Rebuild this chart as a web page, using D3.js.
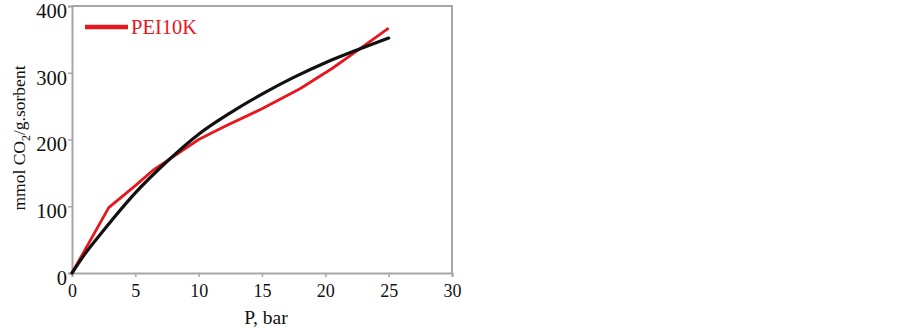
<!DOCTYPE html>
<html>
<head>
<meta charset="utf-8">
<script src="https://cdn.jsdelivr.net/npm/d3@7"></script>
<style>
    body { margin: 0; background: #fff; }
    svg text { font-family: "Liberation Serif", "DejaVu Serif", serif; }
</style>
</head>
<body>
<div id="chart"></div>
<script>
// measured series (P in bar, uptake)
var redP   = [0, 2.9, 5, 6.4, 7.5, 10, 12, 15, 18, 20.5, 22, 25];
var redVal = [0, 98, 131, 154, 168, 200, 219, 246, 276, 306, 326, 367];

var fitP   = [0, 1, 2.5, 5, 7.5, 10, 12.5, 15, 17.5, 20, 22.5, 25];
var fitVal = [0, 28, 64, 120, 167, 208, 240, 268, 293, 315, 334, 352];

var xTicks = [0, 5, 10, 15, 20, 25, 30];
var yTicks = [0, 100, 200, 300, 400];
var legendLabel = "PEI10K";

var width = 902, height = 328;
var margin = { left: 72, right: 450, top: 6, bottom: 55 };

var svg = d3.select("#chart").append("svg")
    .attr("width", width)
    .attr("height", height);

var x = d3.scaleLinear().domain([0, 30]).range([margin.left, width - margin.right]);
var y = d3.scaleLinear().domain([0, 400]).range([height - margin.bottom, margin.top]);

var frameColor = "#a6a6a6";

// frame (top and right)
svg.append("path")
    .attr("d", "M" + x(0) + "," + y(400) + "H" + x(30) + "V" + y(0))
    .attr("fill", "none")
    .attr("stroke", frameColor)
    .attr("stroke-width", 2);

// x axis
var xAxis = svg.append("g")
    .attr("transform", "translate(0," + y(0) + ")")
    .call(d3.axisBottom(x).tickValues(xTicks).tickSize(4).tickFormat(d3.format("d")));

// y axis
var yAxis = svg.append("g")
    .attr("transform", "translate(" + x(0) + ",0)")
    .call(d3.axisLeft(y).tickValues(yTicks).tickSize(4).tickFormat(d3.format("d")));

[xAxis, yAxis].forEach(function (g) {
    g.select(".domain").attr("stroke", frameColor).attr("stroke-width", 2);
    g.selectAll(".tick line").attr("stroke", frameColor).attr("stroke-width", 1.5);
    g.selectAll(".tick text")
        .attr("fill", "#111")
        .style("font-family", "Liberation Serif, serif");
});
xAxis.selectAll(".tick text").attr("dy", "0.95em").style("font-size", "18px");
yAxis.selectAll(".tick text").attr("x", -5).attr("dy", "0.55em").style("font-size", "20.5px");

// axis labels
svg.append("text")
    .attr("x", x(15) + 4)
    .attr("y", 324)
    .attr("text-anchor", "middle")
    .style("font-size", "19.5px")
    .attr("fill", "#111")
    .text("P, bar");

var yl = svg.append("text")
    .attr("transform", "translate(25," + 138 + ") rotate(-90)")
    .attr("text-anchor", "middle")
    .style("font-size", "17.5px")
    .attr("fill", "#111");
yl.append("tspan").text("mmol CO");
yl.append("tspan").attr("dy", 5).style("font-size", "12px").text("2");
yl.append("tspan").attr("dy", -5).text("/g.sorbent");

var line = d3.line()
    .x(function (d) { return x(d[0]); })
    .y(function (d) { return y(d[1]); });

var fitCurve = d3.line()
    .curve(d3.curveMonotoneX)
    .x(function (d) { return x(d[0]); })
    .y(function (d) { return y(d[1]); });

svg.append("path")
    .attr("d", line(d3.zip(redP, redVal)))
    .attr("fill", "none")
    .attr("stroke", "#e8161e")
    .attr("stroke-width", 2.8)
    .attr("stroke-linejoin", "round");

svg.append("path")
    .attr("d", fitCurve(d3.zip(fitP, fitVal)))
    .attr("fill", "none")
    .attr("stroke", "#111")
    .attr("stroke-width", 3.2)
    .attr("stroke-linecap", "round");

// legend
svg.append("line")
    .attr("x1", 85).attr("x2", 128)
    .attr("y1", 27).attr("y2", 27)
    .attr("stroke", "#e8161e")
    .attr("stroke-width", 4.5);

svg.append("text")
    .attr("x", 131)
    .attr("y", 34)
    .style("font-size", "20.5px")
    .attr("fill", "#e8161e")
    .text(legendLabel);
</script>
</body>
</html>
